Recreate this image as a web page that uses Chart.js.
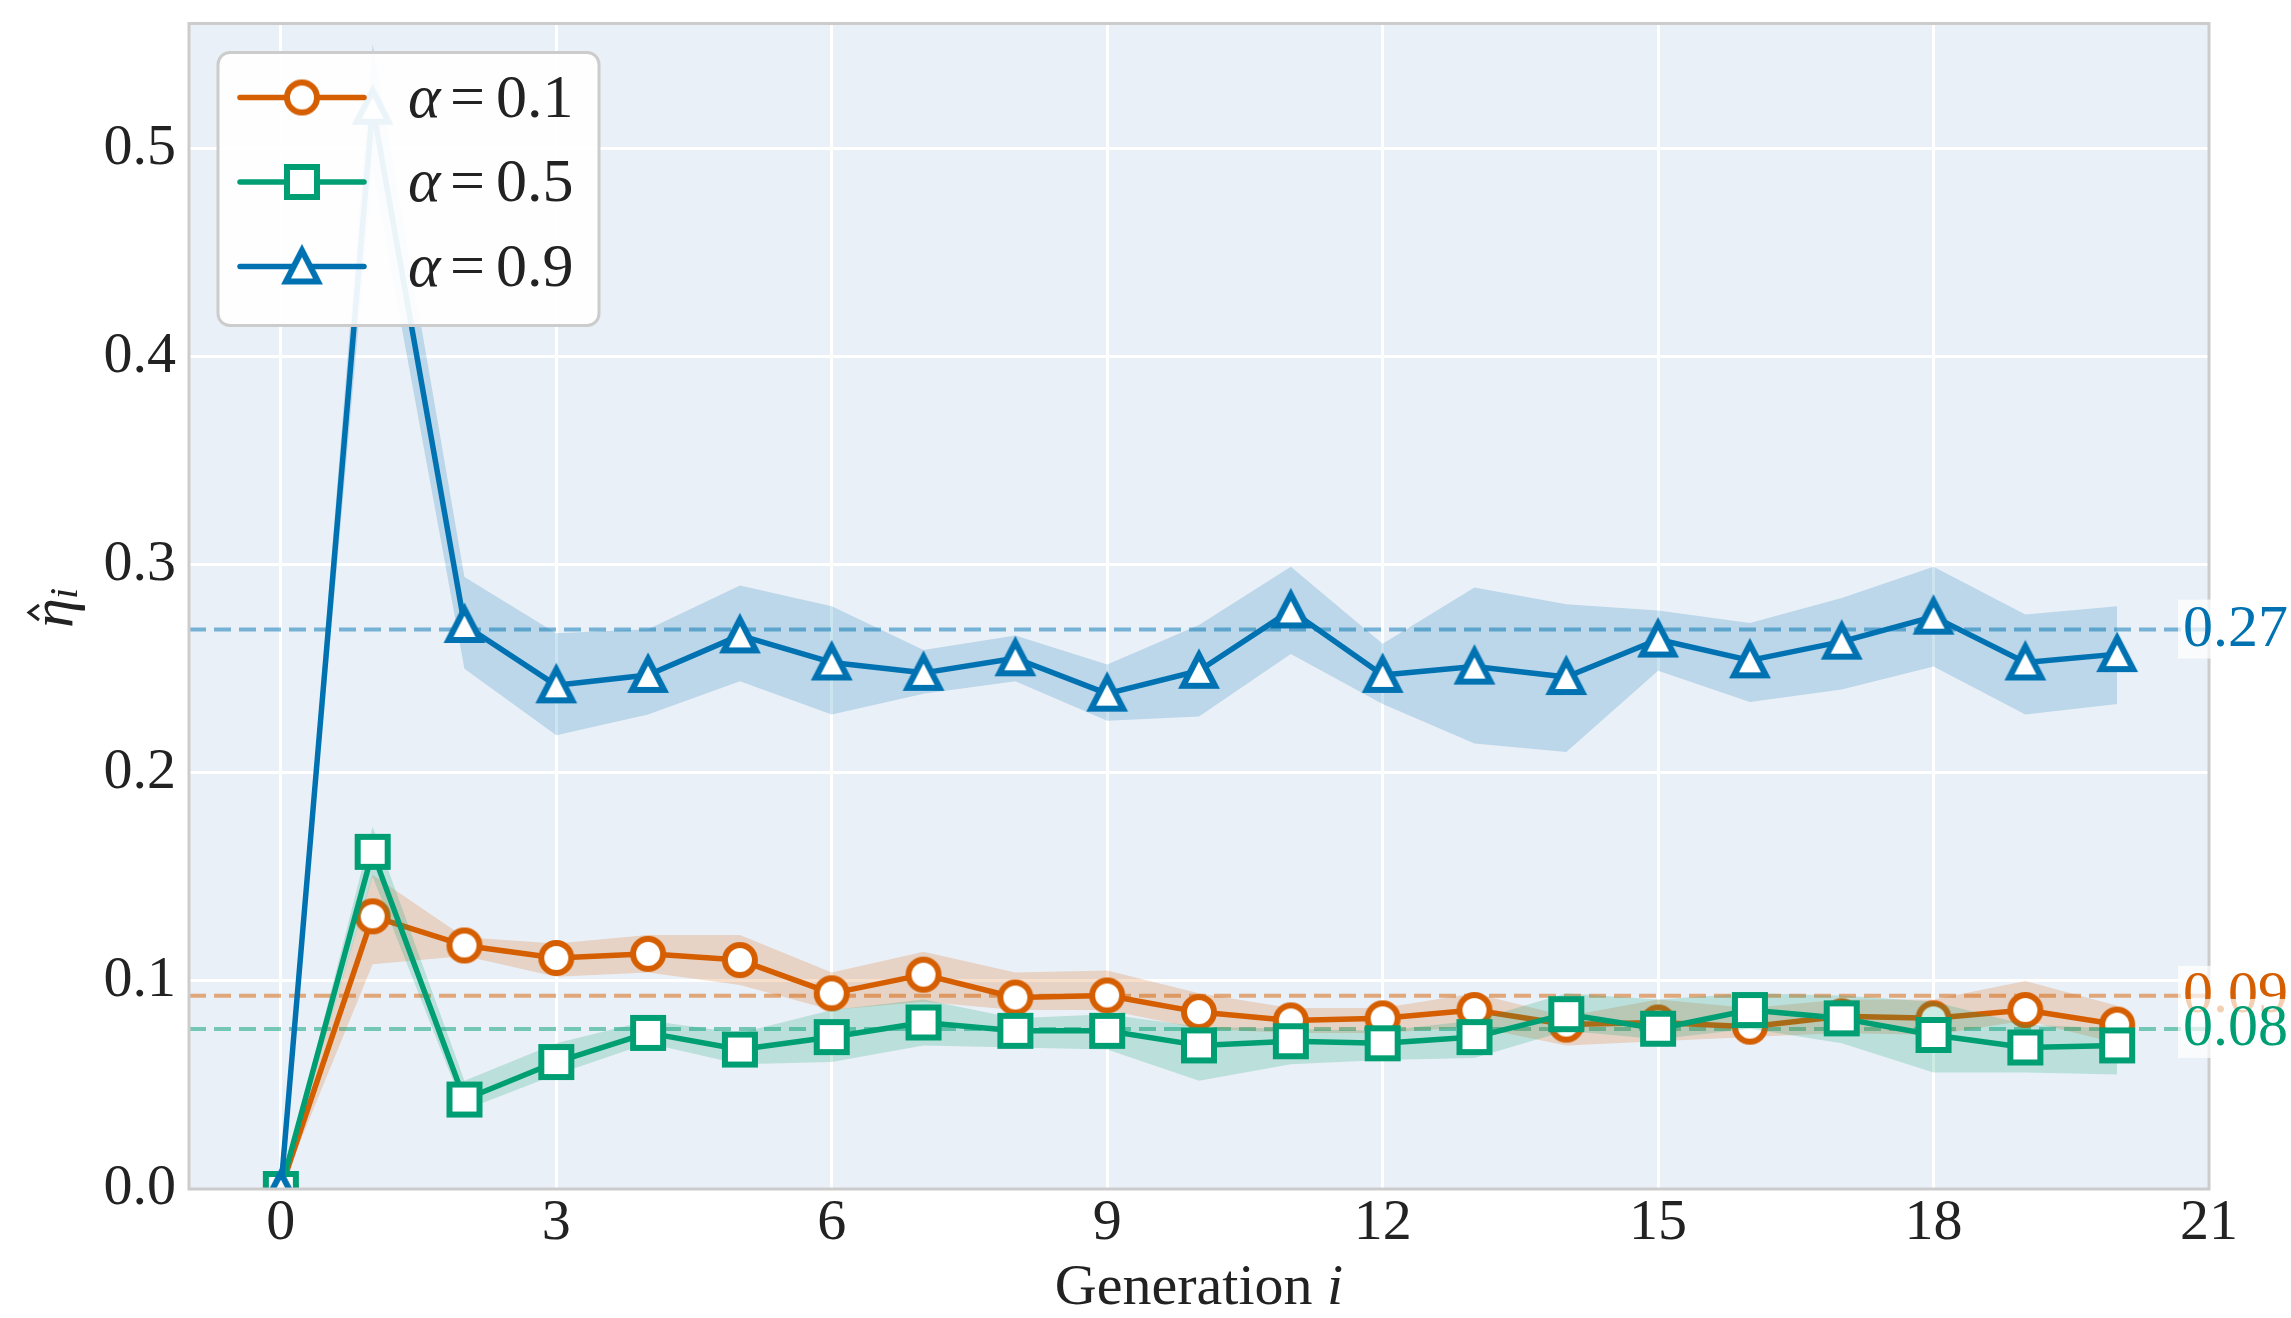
<!DOCTYPE html>
<html>
<head>
<meta charset="utf-8">
<script src="https://cdn.jsdelivr.net/npm/chart.js@4.4.0/dist/chart.umd.min.js"></script>
<style>
html,body{margin:0;padding:0;background:#fff;}
canvas{display:block;}
</style>
</head>
<body>
<canvas id="c" width="2291" height="1318"></canvas>
<script>
// ---------------- data ----------------
const generations = [0,1,2,3,4,5,6,7,8,9,10,11,12,13,14,15,16,17,18,19,20];
const seriesLabels = ['0.1','0.5','0.9'];

const etaAlpha01     = [0, 0.131, 0.117, 0.111, 0.113, 0.110, 0.094, 0.103, 0.092, 0.093, 0.085, 0.081, 0.082, 0.086, 0.079, 0.080, 0.078, 0.083, 0.082, 0.086, 0.079];
const etaAlpha01Low  = [0, 0.108, 0.112, 0.102, 0.104, 0.098, 0.086, 0.090, 0.086, 0.086, 0.077, 0.075, 0.075, 0.078, 0.069, 0.071, 0.073, 0.075, 0.074, 0.081, 0.070];
const etaAlpha01High = [0, 0.151, 0.121, 0.118, 0.122, 0.122, 0.104, 0.114, 0.104, 0.105, 0.094, 0.087, 0.087, 0.094, 0.083, 0.091, 0.087, 0.091, 0.091, 0.100, 0.088];

const etaAlpha05     = [0, 0.162, 0.043, 0.061, 0.075, 0.067, 0.073, 0.080, 0.076, 0.076, 0.069, 0.071, 0.070, 0.073, 0.084, 0.077, 0.086, 0.082, 0.074, 0.068, 0.069];
const etaAlpha05Low  = [0, 0.150, 0.038, 0.055, 0.070, 0.060, 0.061, 0.069, 0.068, 0.067, 0.052, 0.060, 0.062, 0.063, 0.076, 0.072, 0.077, 0.070, 0.056, 0.056, 0.055];
const etaAlpha05High = [0, 0.174, 0.052, 0.070, 0.081, 0.075, 0.086, 0.091, 0.082, 0.084, 0.078, 0.077, 0.076, 0.081, 0.094, 0.091, 0.094, 0.093, 0.090, 0.079, 0.077];

const etaAlpha09     = [0, 0.520, 0.271, 0.242, 0.247, 0.266, 0.253, 0.248, 0.255, 0.238, 0.249, 0.278, 0.247, 0.251, 0.246, 0.264, 0.254, 0.263, 0.275, 0.253, 0.257];
const etaAlpha09Low  = [0, 0.490, 0.250, 0.218, 0.228, 0.244, 0.228, 0.238, 0.244, 0.225, 0.227, 0.257, 0.233, 0.214, 0.210, 0.249, 0.234, 0.240, 0.251, 0.228, 0.233];
const etaAlpha09High = [0, 0.550, 0.294, 0.267, 0.269, 0.290, 0.280, 0.259, 0.266, 0.252, 0.271, 0.299, 0.262, 0.289, 0.281, 0.278, 0.272, 0.284, 0.299, 0.276, 0.280];

const meanLevels = [0.0928, 0.0769, 0.2688];
const meanLabels = ['0.09', '0.08', '0.27'];

const xTicks = [0, 3, 6, 9, 12, 15, 18, 21];
const yTicks = [0, 0.1, 0.2, 0.3, 0.4, 0.5];
const xRange = [-1, 21];
const yRange = [0, 0.56];

// ---------------- styling helpers ----------------
const colors = ['#d55e00', '#009e73', '#0072b2'];
const shapes = ['circle', 'square', 'triangle'];
const SERIF = '"Liberation Serif", "Times New Roman", serif';
const TEXT = '#222222';

function rgba(hex, a) {
  const n = parseInt(hex.slice(1), 16);
  return `rgba(${(n >> 16) & 255},${(n >> 8) & 255},${n & 255},${a})`;
}
function markerCanvas(shape, color) {
  const s = 56, c = s / 2, h = 15;
  const cv = document.createElement('canvas');
  cv.width = s; cv.height = s;
  const g = cv.getContext('2d');
  g.lineWidth = 6; g.strokeStyle = color; g.fillStyle = '#ffffff'; g.lineJoin = 'miter';
  g.beginPath();
  if (shape === 'circle') g.arc(c, c, h, 0, Math.PI * 2);
  else if (shape === 'square') g.rect(c - h, c - h, 2 * h, 2 * h);
  else { g.moveTo(c, c - h - 1); g.lineTo(c - h - 1, c + h); g.lineTo(c + h + 1, c + h); g.closePath(); }
  g.fill(); g.stroke();
  return cv;
}
const markers = shapes.map((s, k) => markerCanvas(s, colors[k]));
const toXY = ys => generations.map((g, i) => ({ x: g, y: ys[i] }));

const means = [etaAlpha01, etaAlpha05, etaAlpha09];
const lows = [etaAlpha01Low, etaAlpha05Low, etaAlpha09Low];
const highs = [etaAlpha01High, etaAlpha05High, etaAlpha09High];

const datasets = [];
meanLevels.forEach((v, k) => {
  datasets.push({
    label: 'mean ' + seriesLabels[k],
    data: [{ x: xRange[0], y: v }, { x: xRange[1], y: v }],
    borderColor: rgba(colors[k], 0.5), borderWidth: 4, borderDash: [17, 8],
    pointRadius: 0, fill: false, clip: 0
  });
});
for (let k = 0; k < 3; k++) {
  const hiIdx = datasets.length;
  datasets.push({
    label: 'band hi ' + seriesLabels[k], data: toXY(highs[k]),
    borderColor: 'rgba(0,0,0,0)', borderWidth: 0, pointRadius: 0,
    fill: hiIdx + 1, backgroundColor: rgba(colors[k], 0.2), clip: 0
  });
  datasets.push({
    label: 'band lo ' + seriesLabels[k], data: toXY(lows[k]),
    borderColor: 'rgba(0,0,0,0)', borderWidth: 0, pointRadius: 0, fill: false, clip: 0
  });
  datasets.push({
    label: 'α = ' + seriesLabels[k], data: toXY(means[k]),
    borderColor: colors[k], borderWidth: 5.5, borderJoinStyle: 'round',
    pointStyle: markers[k], pointRadius: 18, pointHoverRadius: 18,
    fill: false, clip: 0
  });
}
datasets.forEach((d, i) => { d.order = 100 - i; });

// ---------------- decorations plugin ----------------
const decor = {
  id: 'decor',
  beforeDraw(chart) {
    const { ctx, chartArea: a } = chart;
    ctx.save();
    ctx.fillStyle = '#ffffff';
    ctx.fillRect(0, 0, chart.width, chart.height);
    ctx.fillStyle = '#eaf0f7';
    ctx.fillRect(a.left, a.top, a.right - a.left, a.bottom - a.top);
    ctx.restore();
  },
  afterDatasetsDraw(chart) {
    const { ctx, chartArea: a } = chart;
    const ys = chart.scales.y;
    ctx.save();
    // frame
    ctx.strokeStyle = '#cccccc'; ctx.lineWidth = 3;
    ctx.strokeRect(a.left, a.top, a.right - a.left, a.bottom - a.top);
    // mean labels on the right
    ctx.font = '60px ' + SERIF;
    ctx.textBaseline = 'alphabetic'; ctx.textAlign = 'left';
    meanLevels.forEach((v, k) => {
      const y = ys.getPixelForValue(v);
      ctx.fillStyle = 'rgba(255,255,255,0.7)';
      ctx.fillRect(a.right - 31, y - 30, 200, 59);
      ctx.fillStyle = colors[k];
      ctx.fillText(meanLabels[k], a.right - 26, y + 16);
    });
    // legend
    const bx = a.left + 29, by = a.top + 29, bw = 381, bh = 273, r = 12;
    ctx.beginPath();
    ctx.moveTo(bx + r, by); ctx.lineTo(bx + bw - r, by); ctx.arcTo(bx + bw, by, bx + bw, by + r, r);
    ctx.lineTo(bx + bw, by + bh - r); ctx.arcTo(bx + bw, by + bh, bx + bw - r, by + bh, r);
    ctx.lineTo(bx + r, by + bh); ctx.arcTo(bx, by + bh, bx, by + bh - r, r);
    ctx.lineTo(bx, by + r); ctx.arcTo(bx, by, bx + r, by, r); ctx.closePath();
    ctx.fillStyle = 'rgba(255,255,255,0.92)'; ctx.fill();
    ctx.strokeStyle = '#cccccc'; ctx.lineWidth = 3; ctx.stroke();
    for (let k = 0; k < 3; k++) {
      const ry = by + 45 + k * 84.5;
      ctx.strokeStyle = colors[k]; ctx.lineWidth = 5.5; ctx.lineCap = 'round';
      ctx.beginPath(); ctx.moveTo(bx + 22, ry); ctx.lineTo(bx + 146, ry); ctx.stroke();
      ctx.drawImage(markers[k], bx + 84 - 28, ry - 28);
      ctx.fillStyle = TEXT;
      ctx.font = 'italic 62px ' + SERIF;
      ctx.fillText('α', bx + 190, ry + 19);
      ctx.font = '62px ' + SERIF;
      ctx.fillText('=', bx + 232, ry + 19);
      ctx.fillText(seriesLabels[k], bx + 278, ry + 19);
    }
    ctx.restore();
  },
  afterDraw(chart) {
    const { ctx, chartArea: a } = chart;
    ctx.save();
    ctx.fillStyle = TEXT; ctx.textBaseline = 'alphabetic'; ctx.textAlign = 'left';
    // x title
    ctx.font = '58px ' + SERIF;
    const t1 = 'Generation ';
    const w1 = ctx.measureText(t1).width;
    ctx.font = 'italic 58px ' + SERIF;
    const w2 = ctx.measureText('i').width;
    const sx = (a.left + a.right) / 2 - (w1 + w2) / 2;
    ctx.font = '58px ' + SERIF; ctx.fillText(t1, sx, 1304);
    ctx.font = 'italic 58px ' + SERIF; ctx.fillText('i', sx + w1, 1304);
    // y title: eta-hat sub i, rotated
    ctx.translate(72, 628); ctx.rotate(-Math.PI / 2);
    ctx.font = 'italic 60px ' + SERIF;
    ctx.fillText('η', 0, 0);
    ctx.strokeStyle = TEXT; ctx.lineWidth = 3; ctx.lineJoin = 'miter';
    ctx.beginPath(); ctx.moveTo(8, -33); ctx.lineTo(15.5, -43); ctx.lineTo(23, -33); ctx.stroke();
    ctx.font = 'italic 40px ' + SERIF;
    ctx.fillText('i', 29, 5);
    ctx.restore();
  }
};

// ---------------- chart ----------------
const tickFont = { family: SERIF, size: 58, lineHeight: 1 };
new Chart(document.getElementById('c'), {
  type: 'line',
  data: { datasets },
  options: {
    responsive: false, animation: false, devicePixelRatio: 1, events: [],
    layout: { padding: { left: 0, top: 21, right: 82, bottom: 0 } },
    elements: { line: { tension: 0 } },
    plugins: { legend: { display: false }, tooltip: { enabled: false } },
    scales: {
      x: {
        type: 'linear', min: xRange[0], max: xRange[1],
        afterBuildTicks: s => { s.ticks = xTicks.map(v => ({ value: v })); },
        ticks: { font: tickFont, color: TEXT, padding: 6, maxRotation: 0, autoSkip: false, callback: v => String(v) },
        grid: { color: '#ffffff', lineWidth: 3, drawTicks: false },
        border: { display: false },
        afterFit: s => { s.height = 129; s.paddingLeft = 0; s.paddingRight = 0; }
      },
      y: {
        type: 'linear', min: yRange[0], max: yRange[1],
        afterBuildTicks: s => { s.ticks = yTicks.map(v => ({ value: v })); },
        ticks: { font: tickFont, color: TEXT, padding: 13, autoSkip: false, callback: v => Number(v).toFixed(1) },
        grid: { color: '#ffffff', lineWidth: 3, drawTicks: false },
        border: { display: false },
        afterFit: s => { s.width = 189; s.paddingTop = 0; s.paddingBottom = 0; }
      }
    }
  },
  plugins: [decor]
});
</script>
</body>
</html>
